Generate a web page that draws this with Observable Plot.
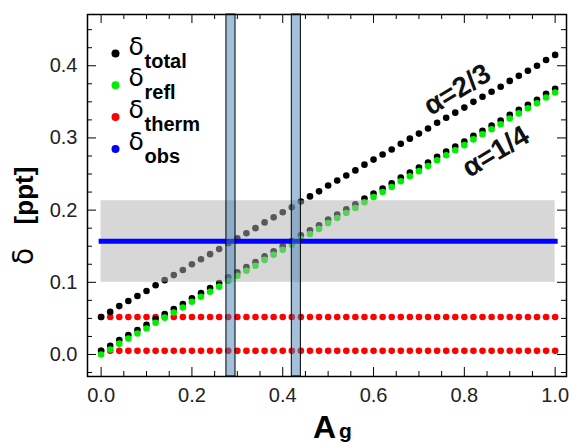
<!DOCTYPE html>
<html>
<head>
<meta charset="utf-8">
<script src="https://cdn.jsdelivr.net/npm/d3@7"></script>
<script src="https://cdn.jsdelivr.net/npm/@observablehq/plot@0.6"></script>
<style>
  html, body { margin: 0; padding: 0; background: #fff; }
  #chart { width: 569px; height: 443px; }
</style>
</head>
<body>
<div id="chart"></div>
<script>
// Geometric albedo A_g
const Ag = [0.00,0.02,0.04,0.06,0.08,0.10,0.12,0.14,0.16,0.18,0.20,0.22,0.24,0.26,0.28,0.30,0.32,0.34,0.36,0.38,0.40,0.42,0.44,0.46,0.48,0.50,0.52,0.54,0.56,0.58,0.60,0.62,0.64,0.66,0.68,0.70,0.72,0.74,0.76,0.78,0.80,0.82,0.84,0.86,0.88,0.90,0.92,0.94,0.96,0.98,1.00];
// Reflected-light eclipse depth (ppt)
const deltaRefl = [0.000,0.007,0.015,0.022,0.029,0.036,0.044,0.051,0.058,0.065,0.073,0.080,0.087,0.094,0.102,0.109,0.116,0.123,0.131,0.138,0.145,0.152,0.160,0.167,0.174,0.182,0.189,0.196,0.203,0.211,0.218,0.225,0.232,0.240,0.247,0.254,0.261,0.269,0.276,0.283,0.290,0.298,0.305,0.312,0.319,0.327,0.334,0.341,0.348,0.356,0.363];
// Total depth, alpha = 2/3
const deltaTotal23 = [0.052,0.059,0.067,0.074,0.081,0.088,0.096,0.103,0.110,0.117,0.125,0.132,0.139,0.146,0.154,0.161,0.168,0.175,0.183,0.190,0.197,0.204,0.212,0.219,0.226,0.234,0.241,0.248,0.255,0.263,0.270,0.277,0.284,0.292,0.299,0.306,0.313,0.321,0.328,0.335,0.342,0.350,0.357,0.364,0.371,0.379,0.386,0.393,0.400,0.408,0.415];
// Total depth, alpha = 1/4
const deltaTotal14 = [0.005,0.012,0.020,0.027,0.034,0.041,0.049,0.056,0.063,0.070,0.078,0.085,0.092,0.099,0.107,0.114,0.121,0.128,0.136,0.143,0.150,0.157,0.165,0.172,0.179,0.187,0.194,0.201,0.208,0.216,0.223,0.230,0.237,0.245,0.252,0.259,0.266,0.274,0.281,0.288,0.295,0.303,0.310,0.317,0.324,0.332,0.339,0.346,0.353,0.361,0.368];
// Thermal depth, alpha = 2/3 and 1/4
const deltaTherm23 = [0.052,0.052,0.052,0.052,0.052,0.052,0.052,0.052,0.052,0.052,0.052,0.052,0.052,0.052,0.052,0.052,0.052,0.052,0.052,0.052,0.052,0.052,0.052,0.052,0.052,0.052,0.052,0.052,0.052,0.052,0.052,0.052,0.052,0.052,0.052,0.052,0.052,0.052,0.052,0.052,0.052,0.052,0.052,0.052,0.052,0.052,0.052,0.052,0.052,0.052,0.052];
const deltaTherm14 = [0.005,0.005,0.005,0.005,0.005,0.005,0.005,0.005,0.005,0.005,0.005,0.005,0.005,0.005,0.005,0.005,0.005,0.005,0.005,0.005,0.005,0.005,0.005,0.005,0.005,0.005,0.005,0.005,0.005,0.005,0.005,0.005,0.005,0.005,0.005,0.005,0.005,0.005,0.005,0.005,0.005,0.005,0.005,0.005,0.005,0.005,0.005,0.005,0.005,0.005,0.005];
// Observed depth and its 1-sigma band
const obsValue = [0.157];
const obsLow = [0.100];
const obsHigh = [0.213];
const obsRangeAg = [0.0, 1.0];
// Allowed A_g intervals (vertical bars)
const barStart = [0.276, 0.420];
const barEnd = [0.296, 0.440];
// Ticks
const xMajor = [0.0, 0.2, 0.4, 0.6, 0.8, 1.0];
const xMinor = [0.05, 0.1, 0.15, 0.25, 0.3, 0.35, 0.45, 0.5, 0.55, 0.65, 0.7, 0.75, 0.85, 0.9, 0.95];
const yMajor = [0.0, 0.1, 0.2, 0.3, 0.4];
const yMinor = [-0.025, 0.025, 0.05, 0.075, 0.125, 0.15, 0.175, 0.225, 0.25, 0.275, 0.325, 0.35, 0.375, 0.425, 0.45];
// Legend
const legendLabels = ["total", "refl", "therm", "obs"];
const legendColors = ["#000000", "#00ee00", "#ff0000", "#0000ff"];
const alphaLabels = ["α=2/3", "α=1/4"];

const W = 569, H = 443;
const mL = 87, mR = 3, mT = 14, mB = 67;
const pw = W - mL - mR, ph = H - mT - mB;

const idx = Ag.map((_, i) => i);
const band = [{x1: obsRangeAg[0], x2: obsRangeAg[1], y1: obsLow[0], y2: obsHigh[0]}];
const obsLine = obsRangeAg.map(a => ({x: a, y: obsValue[0]}));
const bars = barStart.map((s, i) => ({x1: s, x2: barEnd[i]}));
const font = "Liberation Sans, Arial, Helvetica, sans-serif";

const legendMarks = legendLabels.flatMap((lab, i) => {
  const dy = 39 + i * 31.8;
  return [
    Plot.dot([lab], {frameAnchor: "top-left", dx: 28, dy: dy, r: 4, fill: legendColors[i], stroke: null}),
    Plot.text(["δ"], {frameAnchor: "top-left", dx: 41, dy: dy + 1, text: d => d, textAnchor: "start", lineAnchor: "bottom", fontSize: 25, fill: "#000", fontFamily: "DejaVu Sans, sans-serif"}),
    Plot.text([lab], {frameAnchor: "top-left", dx: 57, dy: dy + 14, text: d => d, textAnchor: "start", lineAnchor: "bottom", fontSize: 20, fontWeight: "bold", fill: "#000"})
  ];
});

const chart = Plot.plot({
  width: W, height: H,
  marginLeft: mL, marginRight: mR, marginTop: mT, marginBottom: mB,
  style: {fontFamily: font, background: "#fff", overflow: "visible"},
  x: {domain: [-0.03, 1.025], label: null, axis: null},
  y: {domain: [-0.0305, 0.471], label: null, axis: null},
  marks: [
    // series
    Plot.dot(idx, {x: i => Ag[i], y: i => deltaTherm23[i], r: 3.3, fill: "#ff0000"}),
    Plot.dot(idx, {x: i => Ag[i], y: i => deltaTherm14[i], r: 3.3, fill: "#ff0000"}),
    Plot.dot(idx, {x: i => Ag[i], y: i => deltaTotal23[i], r: 3.3, fill: "#000"}),
    Plot.dot(idx, {x: i => Ag[i], y: i => deltaTotal14[i], r: 3.3, fill: "#000"}),
    Plot.dot(idx, {x: i => Ag[i], y: i => deltaRefl[i], r: 3.3, fill: "#00ee00"}),
    // observed band and value
    Plot.rect(band, {x1: "x1", x2: "x2", y1: "y1", y2: "y2", fill: "#b0b0b0", fillOpacity: 0.5}),
    Plot.line(obsLine, {x: "x", y: "y", stroke: "#0000ff", strokeWidth: 5, strokeLinecap: "square"}),
    // A_g solution bars
    Plot.rectX(bars, {x1: "x1", x2: "x2", fill: "#4682b4", fillOpacity: 0.5, stroke: "#000", strokeWidth: 1}),
    // alpha annotations
    Plot.text([39], {x: i => Ag[i], y: i => deltaTotal23[i], text: () => alphaLabels[0], rotate: -31, dx: 2, dy: -23, fontSize: 28, fontWeight: "bold", fill: "#111"}),
    Plot.text([43], {x: i => Ag[i], y: i => deltaTotal14[i], text: () => alphaLabels[1], rotate: -31, dx: 4, dy: 26, fontSize: 28, fontWeight: "bold", fill: "#111"}),
    // ticks (inward, all four sides)
    Plot.tickX(xMajor, {x: d => d, insetTop: ph - 9, stroke: "#000"}),
    Plot.tickX(xMajor, {x: d => d, insetBottom: ph - 9, stroke: "#000"}),
    Plot.tickX(xMinor, {x: d => d, insetTop: ph - 5, stroke: "#000"}),
    Plot.tickX(xMinor, {x: d => d, insetBottom: ph - 5, stroke: "#000"}),
    Plot.tickY(yMajor, {y: d => d, insetRight: pw - 9, stroke: "#000"}),
    Plot.tickY(yMajor, {y: d => d, insetLeft: pw - 9, stroke: "#000"}),
    Plot.tickY(yMinor, {y: d => d, insetRight: pw - 5, stroke: "#000"}),
    Plot.tickY(yMinor, {y: d => d, insetLeft: pw - 5, stroke: "#000"}),
    // axis tick labels
    Plot.axisX(xMajor, {tickSize: 0, tickPadding: 11, tickFormat: d3.format(".1f"), fontSize: 20, fill: "#222", label: null}),
    Plot.axisY(yMajor, {tickSize: 0, tickPadding: 10, tickFormat: d3.format(".1f"), fontSize: 20, fill: "#222", label: null}),
    // axis titles
    Plot.text(["[ppt]"], {frameAnchor: "left", dx: -63, dy: 0, rotate: -90, text: d => d, textAnchor: "middle", fontSize: 26, fontWeight: "bold", fill: "#000"}),
    Plot.text(["δ"], {frameAnchor: "left", dx: -63, dy: 61, rotate: -90, text: d => d, textAnchor: "middle", fontSize: 28, fill: "#000", fontFamily: "DejaVu Sans, sans-serif"}),
    Plot.text(["A"], {frameAnchor: "bottom", dx: -14, dy: 61, text: d => d, textAnchor: "start", lineAnchor: "bottom", fontSize: 32, fontWeight: "bold", fill: "#000"}),
    Plot.text(["g"], {frameAnchor: "bottom", dx: 12, dy: 61.5, text: d => d, textAnchor: "start", lineAnchor: "bottom", fontSize: 21, fontWeight: "bold", fill: "#000"}),
    ...legendMarks,
    Plot.frame({stroke: "#000", strokeWidth: 1.5})
  ]
});
document.getElementById("chart").appendChild(chart);
</script>
</body>
</html>
